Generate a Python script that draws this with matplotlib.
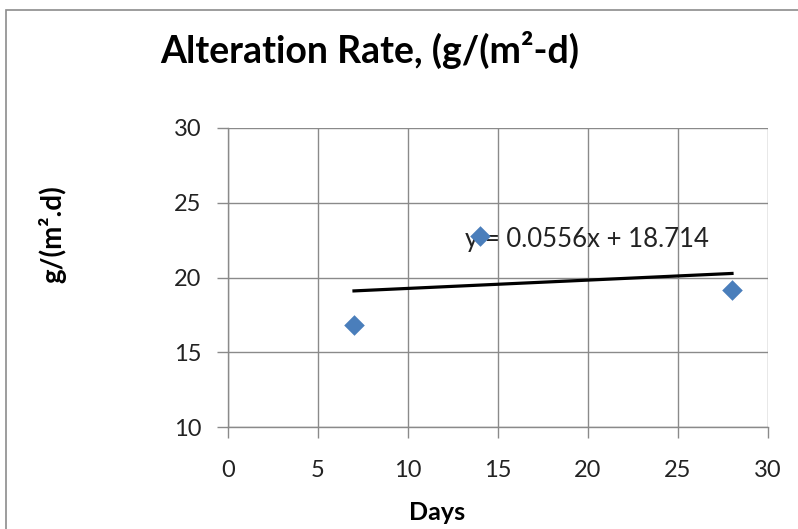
import matplotlib
matplotlib.use("Agg")
import matplotlib.pyplot as plt
from matplotlib.patches import Rectangle
import numpy as np

days = [7, 14, 28]
rate = [16.85, 22.8, 19.15]
slope = 0.0556
intercept = 18.714
x_ticks = [0, 5, 10, 15, 20, 25, 30]
y_ticks = [10, 15, 20, 25, 30]
title = "Alteration Rate, (g/(m²-d)"
xlabel = "Days"
ylabel = "g/(m².d)"
equation = "y = 0.0556x + 18.714"

plt.rcParams['font.family'] = ['Lato', 'DejaVu Sans']

W, H = 798, 529
fig = plt.figure(figsize=(W/100, H/100), dpi=100)
fig.patch.set_facecolor('white')

# outer chart frame
fig.patches.append(Rectangle((6/W, 0 - 0.05), 1.2, 1 - 10/H + 0.05, transform=fig.transFigure,
                             fill=False, edgecolor='#8c8c8c', linewidth=1.2))

ax = fig.add_axes([228/W, 1 - 427/H, 540/W, 299/H])
ax.set_xlim(0, 30)
ax.set_ylim(10, 30)
ax.set_xticks(x_ticks)
ax.set_yticks(y_ticks)
grid_c = '#8a8a8a'
ax.grid(True, color=grid_c, linewidth=1.0)
ax.set_axisbelow(True)
for s in ['top', 'right']:
    ax.spines[s].set_visible(False)
for s in ['left', 'bottom']:
    ax.spines[s].set_color(grid_c)
    ax.spines[s].set_linewidth(1.0)
ax.tick_params(axis='both', direction='out', length=8, width=1.0, color=grid_c,
               labelsize=17, labelcolor='#222222')
ax.tick_params(axis='x', pad=16)
ax.tick_params(axis='y', pad=11)

ax.scatter(days, rate, marker='D', s=110, color='#4a7ebb', zorder=3, linewidths=0)
xt = np.array([min(days), max(days)])
ax.plot(xt, slope * xt + intercept, color='black', linewidth=2.3, zorder=4)

ax.text(587/W, 1 - 239/H, equation, transform=fig.transFigure, ha='center', va='center',
        fontsize=18.5, color='#222222', zorder=2)

fig.text(370/W, 1 - 63/H, title, ha='center', va='baseline', fontsize=27,
         fontweight='bold', color='black')
fig.text(437/W, 1 - 513/H, xlabel, ha='center', va='center', fontsize=18, fontweight='bold')
fig.text(52/W, 1 - 234/H, ylabel, ha='center', va='center', fontsize=20, fontweight='bold',
         rotation=90)

fig.savefig('out.png', dpi=100)
